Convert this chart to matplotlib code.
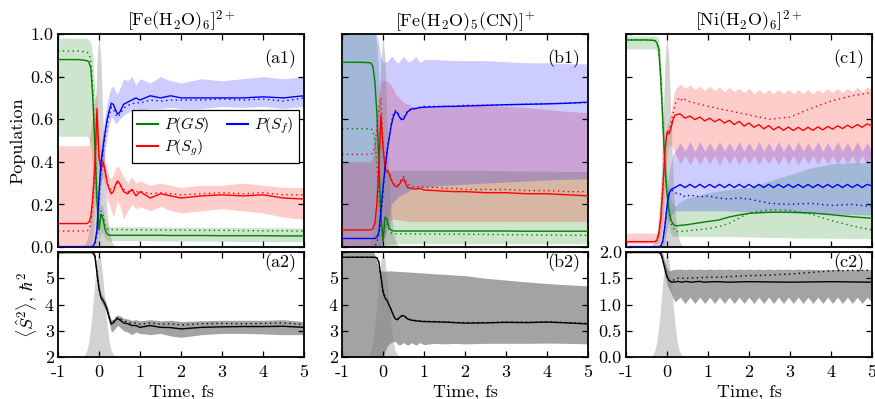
"""
plot.py
Population and spin dynamics after ionisation for three aqua complexes.

Top row: populations of the ground state (GS), the initially reached spin
state (S_g) and the final spin state (S_f). Solid = mean trajectory,
dotted = reference model, shaded = spread over the ensemble.
Bottom row: <S^2> expectation value. The grey hump is the pulse envelope.
"""

import matplotlib
matplotlib.use("Agg")
import matplotlib.pyplot as plt

OUTPUT_PATH = "out.png"

GREEN = "#008000"
RED = "#ff0000"
BLUE = "#0000ff"

# ---- time grids (fs) ----
T = [-1.0, -0.5, -0.3, -0.25, -0.2, -0.15, -0.1, -0.05,
     0.0, 0.05, 0.1, 0.15, 0.2, 0.25, 0.3, 0.35, 0.4, 0.45, 0.5,
     0.6, 0.7, 0.8, 0.9, 1.0, 1.25, 1.5, 1.75, 2.0, 2.5, 3.0, 3.5, 4.0, 4.5, 5.0]
# finer grid for the strongly oscillating curves of the Ni complex
T_OSC = [round(0.20 + 0.12 * i, 2) for i in range(41)]
T_FINE = T[:12] + T_OSC

T_PULSE = [-0.45, -0.4, -0.35, -0.3, -0.25, -0.2, -0.15, -0.1, -0.05, 0.0,
           0.05, 0.1, 0.15, 0.2, 0.25, 0.3, 0.35, 0.4, 0.45]
PULSE_TOP = [0.0, 0.004, 0.012, 0.03, 0.07, 0.15, 0.31, 0.57, 0.87, 1.0,
             0.87, 0.58, 0.32, 0.16, 0.075, 0.032, 0.012, 0.004, 0.0]
PULSE_BOTTOM = [0.002, 0.007, 0.022, 0.06, 0.14, 0.29, 0.50, 0.73, 0.92, 1.0,
                0.92, 0.73, 0.50, 0.29, 0.14, 0.06, 0.022, 0.007, 0.002]

# ---- (a) [Fe(H2O)6]2+ ----
A1_GS = [0.88, 0.88, 0.875, 0.87, 0.84, 0.70, 0.47, 0.22,
         0.08, 0.155, 0.13, 0.08, 0.06, 0.056, 0.055, 0.055, 0.055, 0.055, 0.055,
         0.055, 0.055, 0.055, 0.055, 0.055, 0.055, 0.055, 0.054, 0.054, 0.054, 0.053, 0.053, 0.053, 0.052, 0.052]
A1_GS_DOT = [0.92, 0.92, 0.915, 0.91, 0.88, 0.74, 0.50, 0.24,
             0.10, 0.17, 0.15, 0.10, 0.085, 0.082, 0.082, 0.082, 0.082, 0.082, 0.082,
             0.082, 0.081, 0.081, 0.081, 0.081, 0.080, 0.080, 0.079, 0.079, 0.078, 0.078, 0.077, 0.076, 0.076, 0.075]
A1_GS_LO = [0.52, 0.52, 0.52, 0.51, 0.48, 0.36, 0.22, 0.08,
            0.03, 0.07, 0.06, 0.04, 0.03, 0.03, 0.03, 0.03, 0.03, 0.03, 0.03,
            0.03, 0.03, 0.03, 0.03, 0.03, 0.03, 0.028, 0.028, 0.028, 0.027, 0.027, 0.026, 0.026, 0.025, 0.025]
A1_GS_HI = [0.98, 0.98, 0.98, 0.975, 0.96, 0.90, 0.72, 0.45,
            0.20, 0.20, 0.19, 0.13, 0.10, 0.095, 0.095, 0.095, 0.095, 0.095, 0.095,
            0.095, 0.095, 0.095, 0.095, 0.095, 0.094, 0.094, 0.093, 0.093, 0.092, 0.092, 0.091, 0.091, 0.09, 0.09]
A1_SG = [0.11, 0.11, 0.11, 0.115, 0.14, 0.24, 0.39, 0.65,
         0.42, 0.37, 0.40, 0.36, 0.30, 0.27, 0.25, 0.26, 0.29, 0.31, 0.30,
         0.26, 0.25, 0.27, 0.24, 0.26, 0.23, 0.25, 0.24, 0.23, 0.24, 0.245, 0.24, 0.245, 0.23, 0.225]
A1_SG_DOT = [0.075, 0.075, 0.075, 0.08, 0.11, 0.21, 0.36, 0.58,
             0.42, 0.36, 0.38, 0.35, 0.30, 0.28, 0.27, 0.27, 0.29, 0.30, 0.29,
             0.27, 0.26, 0.27, 0.26, 0.26, 0.25, 0.255, 0.25, 0.245, 0.25, 0.255, 0.25, 0.255, 0.245, 0.245]
A1_SG_LO = [0.0, 0.0, 0.0, 0.0, 0.0, 0.05, 0.20, 0.45,
            0.30, 0.30, 0.33, 0.28, 0.22, 0.20, 0.17, 0.14, 0.18, 0.22, 0.20,
            0.13, 0.17, 0.20, 0.18, 0.19, 0.17, 0.19, 0.17, 0.16, 0.17, 0.18, 0.17, 0.16, 0.14, 0.13]
A1_SG_HI = [0.475, 0.475, 0.475, 0.48, 0.55, 0.62, 0.70, 0.72,
            0.55, 0.45, 0.46, 0.42, 0.36, 0.33, 0.32, 0.34, 0.37, 0.38, 0.37,
            0.33, 0.30, 0.33, 0.30, 0.31, 0.29, 0.30, 0.29, 0.28, 0.29, 0.29, 0.30, 0.29, 0.28, 0.28]
A1_SF = [0.0, 0.0, 0.0, 0.0, 0.0, 0.003, 0.02, 0.08,
         0.25, 0.40, 0.47, 0.54, 0.60, 0.64, 0.675, 0.67, 0.645, 0.625, 0.63,
         0.67, 0.68, 0.69, 0.70, 0.69, 0.71, 0.70, 0.71, 0.70, 0.70, 0.70, 0.70, 0.705, 0.70, 0.71]
A1_SF_DOT = [0.0, 0.0, 0.0, 0.0, 0.0, 0.003, 0.015, 0.06,
             0.22, 0.37, 0.45, 0.52, 0.58, 0.62, 0.655, 0.65, 0.625, 0.61, 0.62,
             0.65, 0.665, 0.67, 0.68, 0.675, 0.69, 0.685, 0.69, 0.69, 0.69, 0.695, 0.69, 0.695, 0.685, 0.70]
A1_SF_LO = [0.0, 0.0, 0.0, 0.0, 0.0, 0.0, 0.0, 0.02,
            0.15, 0.30, 0.38, 0.45, 0.52, 0.57, 0.61, 0.60, 0.58, 0.585, 0.60,
            0.62, 0.63, 0.64, 0.65, 0.64, 0.65, 0.65, 0.655, 0.65, 0.65, 0.66, 0.655, 0.66, 0.65, 0.66]
A1_SF_HI = [0.01, 0.01, 0.01, 0.01, 0.01, 0.02, 0.05, 0.14,
            0.33, 0.47, 0.55, 0.62, 0.68, 0.72, 0.75, 0.755, 0.73, 0.72, 0.74,
            0.79, 0.78, 0.80, 0.76, 0.79, 0.77, 0.80, 0.78, 0.77, 0.79, 0.78, 0.79, 0.80, 0.79, 0.80]

A2_S2 = [6.0, 6.0, 6.0, 6.0, 6.0, 5.98, 5.85, 5.2,
         4.6, 4.25, 4.15, 4.0, 3.8, 3.5, 3.25, 3.3, 3.4, 3.47, 3.42,
         3.3, 3.27, 3.2, 3.2, 3.13, 3.2, 3.13, 3.12, 3.07, 3.13, 3.15, 3.16, 3.16, 3.17, 3.13]
A2_S2_DOT = [6.0, 6.0, 6.0, 6.0, 6.0, 5.98, 5.85, 5.2,
             4.6, 4.25, 4.15, 4.0, 3.8, 3.5, 3.27, 3.35, 3.45, 3.5, 3.48,
             3.38, 3.33, 3.28, 3.3, 3.25, 3.3, 3.25, 3.27, 3.22, 3.27, 3.28, 3.27, 3.28, 3.3, 3.24]
A2_LO = [5.95, 5.95, 5.95, 5.95, 5.95, 5.9, 5.7, 5.0,
         4.45, 4.1, 3.98, 3.82, 3.6, 3.3, 2.95, 3.0, 3.1, 3.2, 3.15,
         3.0, 2.95, 2.85, 2.95, 2.9, 2.85, 2.9, 2.8, 2.75, 2.85, 2.9, 2.9, 2.88, 2.85, 2.85]
A2_HI = [6.05, 6.05, 6.05, 6.05, 6.05, 6.03, 5.98, 5.4,
         4.8, 4.4, 4.3, 4.15, 3.95, 3.65, 3.4, 3.45, 3.55, 3.6, 3.58,
         3.48, 3.45, 3.4, 3.42, 3.38, 3.42, 3.38, 3.4, 3.35, 3.38, 3.4, 3.4, 3.4, 3.42, 3.35]

# ---- (b) [Fe(H2O)5(CN)]+ ----
B1_GS = [0.867, 0.867, 0.865, 0.85, 0.78, 0.63, 0.40, 0.15,
         0.03, 0.14, 0.13, 0.09, 0.078, 0.076, 0.075, 0.075, 0.075, 0.075, 0.075,
         0.075, 0.075, 0.075, 0.075, 0.075, 0.075, 0.075, 0.075, 0.075, 0.075, 0.075, 0.074, 0.074, 0.074, 0.074]
B1_GS_DOT = [0.556, 0.556, 0.555, 0.55, 0.50, 0.40, 0.25, 0.10,
             0.03, 0.10, 0.11, 0.08, 0.065, 0.062, 0.062, 0.062, 0.062, 0.062, 0.062,
             0.062, 0.062, 0.061, 0.061, 0.061, 0.061, 0.060, 0.060, 0.060, 0.059, 0.058, 0.057, 0.056, 0.055, 0.055]
B1_GS_LO = [0.0, 0.0, 0.0, 0.0, 0.0, 0.0, 0.0, 0.0,
            0.0, 0.005, 0.01, 0.012, 0.015, 0.015, 0.015, 0.015, 0.015, 0.015, 0.015,
            0.015, 0.015, 0.015, 0.015, 0.015, 0.015, 0.015, 0.015, 0.015, 0.015, 0.015, 0.015, 0.015, 0.015, 0.015]
B1_GS_HI = [1.0, 1.0, 1.0, 1.0, 1.0, 0.95, 0.80, 0.60,
            0.45, 0.38, 0.36, 0.36, 0.36, 0.36, 0.36, 0.36, 0.36, 0.36, 0.36,
            0.36, 0.36, 0.36, 0.36, 0.36, 0.36, 0.36, 0.36, 0.36, 0.36, 0.358, 0.357, 0.356, 0.355, 0.355]
B1_SG = [0.08, 0.08, 0.08, 0.085, 0.11, 0.20, 0.38, 0.62,
         0.47, 0.37, 0.355, 0.345, 0.315, 0.295, 0.285, 0.283, 0.295, 0.31, 0.32,
         0.28, 0.275, 0.272, 0.275, 0.268, 0.265, 0.262, 0.26, 0.26, 0.255, 0.255, 0.25, 0.25, 0.245, 0.24]
B1_SG_DOT = [0.435, 0.435, 0.435, 0.44, 0.47, 0.56, 0.65, 0.70,
             0.50, 0.38, 0.365, 0.35, 0.32, 0.30, 0.29, 0.29, 0.30, 0.32, 0.33,
             0.295, 0.285, 0.28, 0.285, 0.28, 0.28, 0.275, 0.275, 0.27, 0.27, 0.27, 0.265, 0.265, 0.26, 0.26]
B1_SG_LO = [0.0, 0.0, 0.0, 0.0, 0.0, 0.0, 0.0, 0.01,
            0.02, 0.05, 0.08, 0.10, 0.13, 0.13, 0.13, 0.13, 0.125, 0.125, 0.125,
            0.12, 0.12, 0.12, 0.12, 0.12, 0.12, 0.12, 0.12, 0.12, 0.12, 0.12, 0.12, 0.12, 0.12, 0.12]
B1_SG_HI = [0.40, 0.40, 0.40, 0.42, 0.50, 0.62, 0.72, 0.78,
            0.78, 0.78, 0.78, 0.77, 0.76, 0.74, 0.72, 0.71, 0.70, 0.69, 0.68,
            0.67, 0.66, 0.658, 0.656, 0.655, 0.658, 0.66, 0.662, 0.665, 0.665, 0.66, 0.655, 0.645, 0.637, 0.63]
B1_SF = [0.04, 0.04, 0.04, 0.04, 0.04, 0.045, 0.07, 0.17,
         0.28, 0.37, 0.45, 0.51, 0.57, 0.61, 0.635, 0.63, 0.61, 0.598, 0.60,
         0.635, 0.648, 0.65, 0.655, 0.656, 0.658, 0.66, 0.66, 0.662, 0.665, 0.668, 0.67, 0.672, 0.675, 0.68]
B1_SF_DOT = [0.0, 0.0, 0.0, 0.0, 0.005, 0.02, 0.06, 0.14,
             0.25, 0.36, 0.45, 0.52, 0.58, 0.62, 0.64, 0.635, 0.615, 0.60, 0.605,
             0.64, 0.65, 0.65, 0.655, 0.66, 0.66, 0.66, 0.662, 0.665, 0.665, 0.668, 0.67, 0.673, 0.675, 0.678]
B1_SF_LO = [0.0, 0.0, 0.0, 0.0, 0.0, 0.0, 0.0, 0.0,
            0.02, 0.05, 0.10, 0.15, 0.20, 0.21, 0.22, 0.23, 0.24, 0.245, 0.25,
            0.26, 0.27, 0.275, 0.278, 0.28, 0.285, 0.29, 0.292, 0.295, 0.30, 0.305, 0.31, 0.315, 0.318, 0.32]
B1_SF_HI = [1.0, 1.0, 1.0, 1.0, 1.0, 1.0, 0.95, 0.89,
            0.87, 0.87, 0.87, 0.88, 0.895, 0.89, 0.875, 0.865, 0.87, 0.885, 0.895,
            0.87, 0.875, 0.895, 0.865, 0.88, 0.88, 0.878, 0.875, 0.875, 0.875, 0.87, 0.865, 0.865, 0.86, 0.86]

B2_S2 = [5.8, 5.8, 5.8, 5.8, 5.8, 5.78, 5.6, 5.05,
         4.5, 4.25, 4.15, 3.97, 3.8, 3.6, 3.45, 3.42, 3.5, 3.56, 3.58,
         3.45, 3.4, 3.38, 3.36, 3.35, 3.34, 3.33, 3.31, 3.29, 3.3, 3.32, 3.31, 3.33, 3.3, 3.26]
B2_S2_DOT = [5.8, 5.8, 5.8, 5.8, 5.8, 5.78, 5.6, 5.05,
             4.5, 4.25, 4.15, 3.97, 3.8, 3.6, 3.45, 3.43, 3.5, 3.57, 3.59,
             3.46, 3.41, 3.39, 3.37, 3.36, 3.35, 3.34, 3.32, 3.31, 3.31, 3.33, 3.32, 3.34, 3.31, 3.28]
B2_LO = [1.9, 1.9, 1.9, 1.9, 1.9, 1.9, 1.9, 1.9,
         1.95, 2.2, 2.4, 2.5, 2.55, 2.58, 2.6, 2.5, 2.45, 2.5, 2.55,
         2.45, 2.55, 2.45, 2.55, 2.47, 2.52, 2.5, 2.52, 2.5, 2.52, 2.52, 2.52, 2.53, 2.52, 2.5]
B2_HI = [6.1, 6.1, 6.1, 6.1, 5.9, 5.6, 5.35, 5.28,
         5.27, 5.27, 5.28, 5.28, 5.28, 5.27, 5.27, 5.26, 5.26, 5.25, 5.25,
         5.24, 5.23, 5.22, 5.21, 5.2, 5.17, 5.15, 5.12, 5.1, 5.0, 4.93, 4.86, 4.8, 4.75, 4.71]

# ---- (c) [Ni(H2O)6]2+ ----
C1_GS = [0.972, 0.972, 0.97, 0.96, 0.93, 0.78, 0.58, 0.38,
         0.25, 0.17, 0.125, 0.108, 0.10, 0.10, 0.101, 0.102, 0.103, 0.104, 0.105,
         0.108, 0.111, 0.114, 0.117, 0.12, 0.126, 0.14, 0.15, 0.158, 0.163, 0.163, 0.16, 0.152, 0.142, 0.135]
C1_GS_DOT = [0.972, 0.972, 0.97, 0.96, 0.93, 0.78, 0.58, 0.38,
             0.25, 0.16, 0.11, 0.09, 0.075, 0.072, 0.072, 0.073, 0.074, 0.075, 0.076,
             0.078, 0.08, 0.082, 0.084, 0.086, 0.095, 0.11, 0.135, 0.16, 0.175, 0.172, 0.155, 0.125, 0.10, 0.08]
C1_GS_LO = [0.93, 0.93, 0.93, 0.92, 0.88, 0.70, 0.48, 0.28,
            0.15, 0.09, 0.06, 0.05, 0.05, 0.05, 0.05, 0.05, 0.05, 0.05, 0.05,
            0.05, 0.05, 0.05, 0.05, 0.05, 0.05, 0.05, 0.048, 0.047, 0.045, 0.043, 0.042, 0.041, 0.04, 0.04]
C1_GS_HI = [0.99, 0.99, 0.99, 0.99, 0.98, 0.88, 0.70, 0.50,
            0.35, 0.27, 0.22, 0.20, 0.19, 0.20, 0.21, 0.215, 0.22, 0.225, 0.23,
            0.235, 0.24, 0.245, 0.25, 0.255, 0.262, 0.27, 0.275, 0.28, 0.31, 0.34, 0.37, 0.39, 0.395, 0.395]
C1_SG = [0.025, 0.025, 0.025, 0.03, 0.06, 0.14, 0.28, 0.45, 0.54, 0.53, 0.56, 0.60,
         0.62, 0.625, 0.605, 0.615, 0.598, 0.61, 0.592, 0.605, 0.588, 0.60,
         0.582, 0.595, 0.575, 0.59, 0.568, 0.582, 0.562, 0.575, 0.555, 0.57,
         0.55, 0.565, 0.548, 0.563, 0.547, 0.562, 0.547, 0.562, 0.548, 0.564,
         0.55, 0.566, 0.553, 0.569, 0.556, 0.572, 0.559, 0.575, 0.562, 0.578,
         0.568]
C1_SG_DOT = [0.025, 0.025, 0.025, 0.03, 0.06, 0.14, 0.28, 0.45,
             0.54, 0.55, 0.58, 0.63, 0.67, 0.69, 0.70, 0.69, 0.70, 0.69, 0.685,
             0.68, 0.675, 0.67, 0.665, 0.66, 0.65, 0.64, 0.63, 0.62, 0.60, 0.61, 0.65, 0.685, 0.71, 0.725]
C1_SG_LO = [0.015, 0.015, 0.015, 0.015, 0.02, 0.05, 0.12, 0.28, 0.42, 0.47, 0.48, 0.46,
            0.44, 0.39, 0.43, 0.385, 0.43, 0.385, 0.43, 0.39, 0.43, 0.385,
            0.43, 0.39, 0.43, 0.385, 0.43, 0.39, 0.43, 0.385, 0.43, 0.39,
            0.43, 0.385, 0.43, 0.39, 0.43, 0.385, 0.43, 0.39, 0.43, 0.385,
            0.43, 0.39, 0.43, 0.385, 0.43, 0.39, 0.43, 0.385, 0.43, 0.39,
            0.43]
C1_SG_HI = [0.065, 0.065, 0.065, 0.065, 0.08, 0.18, 0.30, 0.46, 0.57, 0.60, 0.63, 0.70,
            0.74, 0.765, 0.745, 0.76, 0.74, 0.755, 0.735, 0.755, 0.735, 0.75,
            0.73, 0.75, 0.73, 0.745, 0.725, 0.745, 0.72, 0.74, 0.72, 0.74,
            0.72, 0.74, 0.72, 0.74, 0.72, 0.74, 0.72, 0.74, 0.72, 0.74,
            0.725, 0.745, 0.725, 0.745, 0.725, 0.745, 0.73, 0.75, 0.73, 0.75,
            0.74]
C1_SF = [0.0, 0.0, 0.0, 0.0, 0.0, 0.005, 0.03, 0.10, 0.19, 0.25, 0.27, 0.275,
         0.28, 0.293, 0.279, 0.294, 0.279, 0.294, 0.279, 0.294, 0.279, 0.294,
         0.279, 0.294, 0.279, 0.294, 0.279, 0.294, 0.279, 0.294, 0.279, 0.294,
         0.279, 0.294, 0.279, 0.294, 0.279, 0.294, 0.279, 0.294, 0.279, 0.294,
         0.279, 0.294, 0.279, 0.294, 0.279, 0.294, 0.279, 0.294, 0.279, 0.294,
         0.287]
C1_SF_DOT = [0.0, 0.0, 0.0, 0.0, 0.0, 0.005, 0.03, 0.10,
             0.19, 0.25, 0.265, 0.265, 0.255, 0.25, 0.245, 0.25, 0.24, 0.235, 0.24,
             0.245, 0.235, 0.24, 0.235, 0.24, 0.23, 0.225, 0.23, 0.225, 0.205, 0.20, 0.205, 0.195, 0.20, 0.19]
C1_SF_LO = [0.0, 0.0, 0.0, 0.0, 0.0, 0.0, 0.0, 0.02, 0.08, 0.13, 0.15, 0.16,
            0.17, 0.17, 0.17, 0.17, 0.17, 0.17, 0.17, 0.17, 0.17, 0.17,
            0.17, 0.169, 0.168, 0.167, 0.166, 0.165, 0.165, 0.164, 0.164, 0.163,
            0.163, 0.162, 0.161, 0.161, 0.16, 0.16, 0.159, 0.158, 0.158, 0.157,
            0.157, 0.156, 0.155, 0.155, 0.154, 0.153, 0.153, 0.152, 0.151, 0.151,
            0.15]
C1_SF_HI = [0.01, 0.01, 0.01, 0.01, 0.01, 0.02, 0.06, 0.14, 0.26, 0.35, 0.40, 0.44,
            0.45, 0.49, 0.45, 0.495, 0.45, 0.495, 0.45, 0.49, 0.45, 0.495,
            0.45, 0.49, 0.45, 0.495, 0.45, 0.49, 0.45, 0.495, 0.45, 0.49,
            0.45, 0.495, 0.45, 0.49, 0.45, 0.495, 0.45, 0.49, 0.45, 0.495,
            0.45, 0.49, 0.45, 0.495, 0.45, 0.49, 0.45, 0.495, 0.45, 0.49,
            0.45]

C2_S2 = [2.0, 2.0, 2.0, 2.0, 2.0, 1.97, 1.84, 1.68,
         1.53, 1.46, 1.43, 1.425, 1.43, 1.44, 1.435, 1.425, 1.43, 1.44, 1.435,
         1.425, 1.435, 1.44, 1.425, 1.43, 1.435, 1.425, 1.43, 1.435, 1.43, 1.425, 1.43, 1.435, 1.43, 1.425]
C2_S2_DOT = [2.0, 2.0, 2.0, 2.0, 2.0, 1.97, 1.84, 1.68,
             1.53, 1.46, 1.44, 1.46, 1.49, 1.50, 1.50, 1.505, 1.50, 1.505, 1.50,
             1.51, 1.505, 1.51, 1.515, 1.52, 1.52, 1.53, 1.54, 1.55, 1.56, 1.58, 1.61, 1.64, 1.65, 1.65]
C2_LO = [1.98, 1.98, 1.98, 1.98, 1.97, 1.92, 1.75, 1.55, 1.38, 1.30, 1.22, 1.12,
         1.05, 1.14, 1.02, 1.14, 1.02, 1.14, 1.02, 1.14, 1.02, 1.14,
         1.02, 1.14, 1.02, 1.14, 1.02, 1.14, 1.02, 1.14, 1.02, 1.14,
         1.02, 1.14, 1.02, 1.14, 1.02, 1.14, 1.02, 1.14, 1.02, 1.14,
         1.02, 1.14, 1.02, 1.14, 1.02, 1.14, 1.02, 1.14, 1.02, 1.14,
         1.04]
C2_HI = [2.02, 2.02, 2.02, 2.02, 2.02, 2.02, 1.97, 1.82, 1.70, 1.64, 1.65, 1.67,
         1.67, 1.675, 1.665, 1.675, 1.665, 1.675, 1.665, 1.675, 1.665, 1.675,
         1.665, 1.675, 1.665, 1.675, 1.665, 1.675, 1.665, 1.675, 1.665, 1.675,
         1.665, 1.675, 1.665, 1.675, 1.665, 1.675, 1.665, 1.675, 1.665, 1.67,
         1.66, 1.67, 1.66, 1.67, 1.66, 1.67, 1.66, 1.67, 1.66, 1.67,
         1.66]

TITLES = [r"$[\mathrm{Fe(H_2O)_6}]^{2+}$",
          r"$[\mathrm{Fe(H_2O)_5(CN)}]^{+}$",
          r"$[\mathrm{Ni(H_2O)_6}]^{2+}$"]
TOP_TAGS = ["(a1)", "(b1)", "(c1)"]
BOTTOM_TAGS = ["(a2)", "(b2)", "(c2)"]
LEGEND_LABELS = [r"$P(GS)$", r"$P(S_g)$", r"$P(S_f)$"]

X_TICKS = [-1, 0, 1, 2, 3, 4, 5]
X_TICK_LABELS = ["-1", "0", "1", "2", "3", "4", "5"]
POP_TICKS = [0.0, 0.2, 0.4, 0.6, 0.8, 1.0]
POP_TICK_LABELS = ["0.0", "0.2", "0.4", "0.6", "0.8", "1.0"]
FE_S2_TICKS = [2, 3, 4, 5, 6]
FE_S2_TICK_LABELS = ["2", "3", "4", "5", ""]
NI_S2_TICKS = [0.0, 0.5, 1.0, 1.5, 2.0]
NI_S2_TICK_LABELS = ["0.0", "0.5", "1.0", "1.5", "2.0"]

# (colour, t_line, solid, t_dot, dotted, t_band, lower, upper)
POP_SERIES = [
    [(GREEN, T, A1_GS, T, A1_GS_DOT, T, A1_GS_LO, A1_GS_HI),
     (RED, T, A1_SG, T, A1_SG_DOT, T, A1_SG_LO, A1_SG_HI),
     (BLUE, T, A1_SF, T, A1_SF_DOT, T, A1_SF_LO, A1_SF_HI)],
    [(GREEN, T, B1_GS, T, B1_GS_DOT, T, B1_GS_LO, B1_GS_HI),
     (RED, T, B1_SG, T, B1_SG_DOT, T, B1_SG_LO, B1_SG_HI),
     (BLUE, T, B1_SF, T, B1_SF_DOT, T, B1_SF_LO, B1_SF_HI)],
    [(GREEN, T, C1_GS, T, C1_GS_DOT, T, C1_GS_LO, C1_GS_HI),
     (RED, T_FINE, C1_SG, T, C1_SG_DOT, T_FINE, C1_SG_LO, C1_SG_HI),
     (BLUE, T_FINE, C1_SF, T, C1_SF_DOT, T_FINE, C1_SF_LO, C1_SF_HI)],
]
SPIN_SERIES = [
    (T, A2_S2, T, A2_S2_DOT, T, A2_LO, A2_HI),
    (T, B2_S2, T, B2_S2_DOT, T, B2_LO, B2_HI),
    (T, C2_S2, T, C2_S2_DOT, T_FINE, C2_LO, C2_HI),
]

DOTTED = (0, (1.0, 2.5))
FONT_SIZE = 13


def setup_style():
    plt.rcParams.update({
        "font.family": "serif",
        "font.serif": ["cmr10", "DejaVu Serif"],
        "mathtext.fontset": "cm",
        "axes.unicode_minus": False,
        "font.size": FONT_SIZE,
        "axes.linewidth": 1.3,
        "xtick.direction": "in",
        "ytick.direction": "in",
        "xtick.top": True,
        "ytick.right": True,
        "xtick.major.size": 4,
        "ytick.major.size": 4,
        "xtick.major.width": 0.9,
        "ytick.major.width": 0.9,
        "xtick.major.pad": 5.5,
        "ytick.major.pad": 3,
        "xtick.labelsize": FONT_SIZE,
        "ytick.labelsize": FONT_SIZE,
    })


def add_pulse(ax, pulse):
    """Grey pulse envelope, scaled to the full height of each panel."""
    ax.fill_between(T_PULSE, 0, pulse, transform=ax.get_xaxis_transform(),
                    color="0.5", alpha=0.35, lw=0, zorder=1.5)


def draw_population(ax, series, tag):
    for colour, tl, solid, td, dotted, tb, lo, hi in series:
        ax.fill_between(tb, lo, hi, color=colour, alpha=0.2, lw=0, zorder=1)
    add_pulse(ax, PULSE_TOP)
    handles = []
    for colour, tl, solid, td, dotted, tb, lo, hi in series:
        ax.plot(td, dotted, color=colour, lw=1.0, ls=DOTTED, zorder=2)
        line, = ax.plot(tl, solid, color=colour, lw=1.0, zorder=3)
        handles.append(line)
    ax.set_xlim(-1, 5)
    ax.set_ylim(0, 1)
    ax.set_xticks(X_TICKS)
    ax.set_xticklabels([])
    ax.set_yticks(POP_TICKS)
    ax.text(0.97, 0.93, tag, transform=ax.transAxes, ha="right", va="top",
            fontsize=FONT_SIZE, zorder=0.5)
    return handles


def draw_spin(ax, series, tag):
    tl, solid, td, dotted, tb, lo, hi = series
    ax.fill_between(tb, lo, hi, color="k", alpha=0.36, lw=0, zorder=1)
    add_pulse(ax, PULSE_BOTTOM)
    ax.plot(td, dotted, color="k", lw=1.0, ls=DOTTED, zorder=2)
    ax.plot(tl, solid, color="k", lw=1.0, zorder=3)
    ax.set_xlim(-1, 5)
    ax.set_xticks(X_TICKS)
    ax.set_xticklabels(X_TICK_LABELS)
    ax.set_xlabel("Time, fs", labelpad=3)
    ax.text(0.97, 0.985, tag, transform=ax.transAxes, ha="right", va="top",
            fontsize=FONT_SIZE, zorder=0.5)


def build_figure():
    setup_style()
    fig = plt.figure(figsize=(8.75, 3.99), dpi=100)

    W, H = 875.0, 399.0
    lefts = [58, 342, 626]
    width = 246
    top_axes, bottom_axes = [], []
    for left in lefts:
        top_axes.append(fig.add_axes([left / W, (H - 247) / H, width / W, 213 / H]))
        bottom_axes.append(fig.add_axes([left / W, (H - 357) / H, width / W, 105 / H]))

    for i, ax in enumerate(top_axes):
        handles = draw_population(ax, POP_SERIES[i], TOP_TAGS[i])
        ax.set_title(TITLES[i], fontsize=FONT_SIZE, pad=3)
        if i == 0:
            ax.set_yticklabels(POP_TICK_LABELS)
            ax.set_ylabel("Population", labelpad=4)
            leg = ax.legend(handles, LEGEND_LABELS, ncol=2, loc="lower right",
                            bbox_to_anchor=(0.978, 0.394), fontsize=11.5,
                            fancybox=False, framealpha=1, edgecolor="k",
                            handlelength=1.3, handletextpad=0.4,
                            columnspacing=1.1, labelspacing=0.15,
                            borderpad=0.3, borderaxespad=0.0)
            leg.get_frame().set_linewidth(0.9)
            for line in leg.get_lines():
                line.set_linewidth(1.5)
        else:
            ax.set_yticklabels([])

    for i, ax in enumerate(bottom_axes):
        draw_spin(ax, SPIN_SERIES[i], BOTTOM_TAGS[i])
        if i < 2:
            ax.set_ylim(2, 6)
            ax.set_yticks(FE_S2_TICKS)
            ax.set_yticklabels(FE_S2_TICK_LABELS)
        else:
            ax.set_ylim(0, 2)
            ax.set_yticks(NI_S2_TICKS)
            ax.set_yticklabels(NI_S2_TICK_LABELS)
        if i == 0:
            ax.set_ylabel(r"$\langle\hat{S}^2\rangle$, $\hbar^2$", labelpad=4)

    fig.savefig(OUTPUT_PATH, dpi=100)
    plt.close(fig)


if __name__ == "__main__":
    build_figure()
